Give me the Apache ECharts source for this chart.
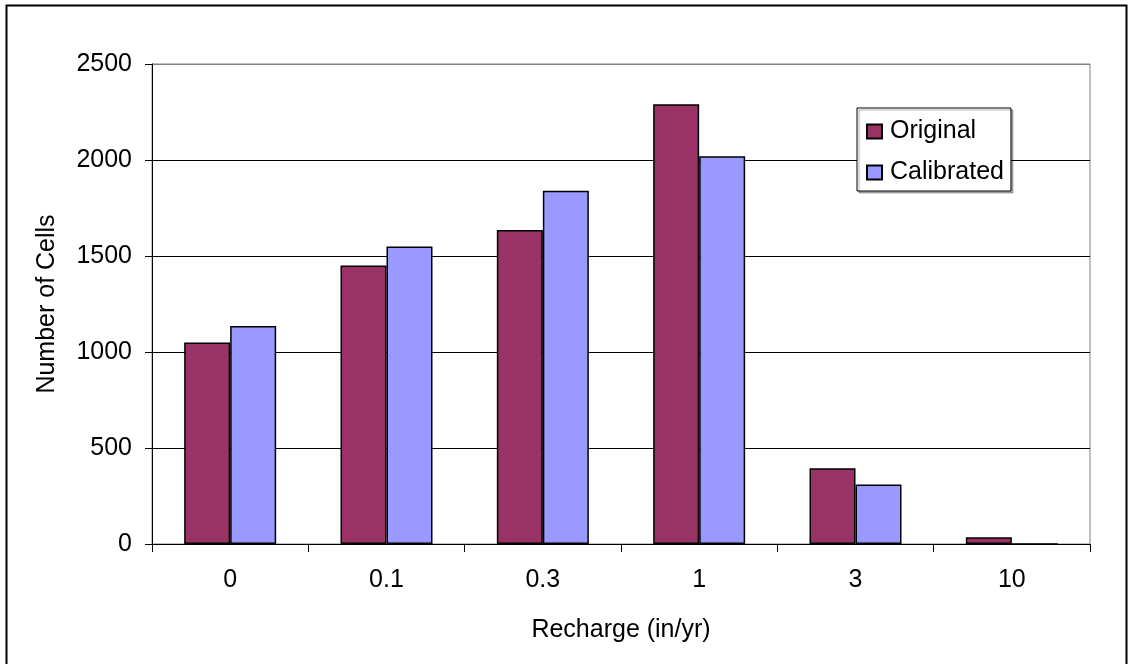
<!DOCTYPE html>
<html>
<head>
<meta charset="utf-8">
<script src="https://cdn.jsdelivr.net/npm/echarts@6/dist/echarts.min.js"></script>
<style>
html,body{margin:0;padding:0;background:#fff;}
#chart{width:1133px;height:664px;}
</style>
</head>
<body>
<div id="chart"></div>
<script>
const categories = ['0', '0.1', '0.3', '1', '3', '10'];
const original = [1050, 1450, 1635, 2290, 395, 35];
const calibrated = [1135, 1550, 1840, 2020, 310, 0];
const yTicks = [0, 500, 1000, 1500, 2000, 2500];

const chart = echarts.init(document.getElementById('chart'), null, {renderer: 'canvas'});
const font = 'Arial, "Liberation Sans", sans-serif';
chart.setOption({
  animation: false,
  backgroundColor: '#fff',
  graphic: [{
    type: 'rect',
    shape: {x: 6.5, y: 5.5, width: 1120, height: 670},
    style: {fill: 'none', stroke: '#000', lineWidth: 2},
    silent: true
  }],
  grid: {
    left: 152, top: 64, right: 43, bottom: 120,
    show: true, borderColor: '#808080', borderWidth: 1, backgroundColor: '#fff'
  },
  legend: {
    orient: 'vertical',
    left: 857, top: 108,
    padding: [11, 7, 6, 9],
    itemWidth: 15, itemHeight: 14,
    itemGap: 16,
    borderColor: '#000', borderWidth: 1,
    backgroundColor: '#fff',
    shadowColor: 'rgba(0,0,0,0.3)', shadowOffsetX: 2, shadowOffsetY: 2, shadowBlur: 0,
    icon: 'rect',
    textStyle: {fontFamily: font, fontSize: 25, color: '#000', lineHeight: 25, padding: [0, 0, 0, 3]},
    data: ['Original', 'Calibrated']
  },
  xAxis: {
    type: 'category',
    data: categories,
    name: 'Recharge (in/yr)',
    nameLocation: 'middle',
    nameGap: 74,
    nameTextStyle: {fontFamily: font, fontSize: 25, color: '#000'},
    axisLine: {lineStyle: {color: '#000', width: 1}},
    axisTick: {show: true, length: 8, lineStyle: {color: '#000'}},
    axisLabel: {fontFamily: font, fontSize: 25, color: '#000', margin: 24},
    splitLine: {show: false}
  },
  yAxis: {
    type: 'value',
    min: 0, max: 2500, interval: 500,
    name: 'Number of Cells',
    nameLocation: 'middle',
    nameRotate: 90,
    nameGap: 92,
    nameTextStyle: {fontFamily: font, fontSize: 25, color: '#000'},
    axisLine: {show: true, lineStyle: {color: '#000', width: 1}},
    axisTick: {show: true, length: 7, lineStyle: {color: '#000'}},
    axisLabel: {fontFamily: font, fontSize: 25, color: '#000', margin: 20,
      formatter: v => yTicks.includes(v) ? String(v) : ''},
    splitLine: {show: true, lineStyle: {color: ['#000', '#000', '#000', '#000', '#000', '#808080'], width: 1}}
  },
  series: [
    {
      name: 'Original', type: 'bar', data: original,
      barWidth: 46, barGap: '0%',
      itemStyle: {color: '#993366', borderColor: '#000', borderWidth: 1.5}
    },
    {
      name: 'Calibrated', type: 'bar', data: calibrated,
      barWidth: 46, barGap: '0%',
      itemStyle: {color: '#9999FF', borderColor: '#000', borderWidth: 1.5}
    }
  ]
});
</script>
</body>
</html>
